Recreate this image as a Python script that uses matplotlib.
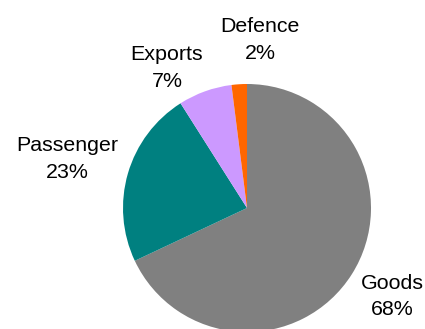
import numpy as np
import matplotlib
matplotlib.use("Agg")
import matplotlib.pyplot as plt

# revenue split by sector (%)
categories = ["Goods", "Passenger", "Exports", "Defence"]
shares = [68, 23, 7, 2]
colours = ["#808080", "#008080", "#CC99FF", "#FF6600"]

# label placement: radial distance (in radii) and angle nudge (deg)
label_dist = [1.37, 1.50, 1.30, 1.36]
label_nudge = [1.0, 1.0, 10.0, -8.0]

plt.rcParams['font.family'] = ['Liberation Sans', 'DejaVu Sans']

fig = plt.figure(figsize=(4.25, 3.29), dpi=100)
ax = fig.add_axes([0, 0, 1, 1])

wedges, _ = ax.pie(shares, colors=colours, startangle=90, counterclock=False,
                   wedgeprops=dict(linewidth=0))

total = sum(shares)
for w, name, val, d, nud in zip(wedges, categories, shares, label_dist, label_nudge):
    mid = np.deg2rad((w.theta1 + w.theta2) / 2 + nud)
    ax.text(d * np.cos(mid), d * np.sin(mid), f"{name}\n{round(100 * val / total)}%",
            ha='center', va='center', fontsize=15.4, linespacing=1.5, color='black')

# centre at (247, 121) px from bottom-left, radius 124 px
r = 124.0
ax.set_xlim(-247 / r, (425 - 247) / r)
ax.set_ylim(-121 / r, (329 - 121) / r)
ax.set_aspect('equal', adjustable='box')
ax.axis('off')

fig.savefig("out.png", dpi=100, facecolor='white')
